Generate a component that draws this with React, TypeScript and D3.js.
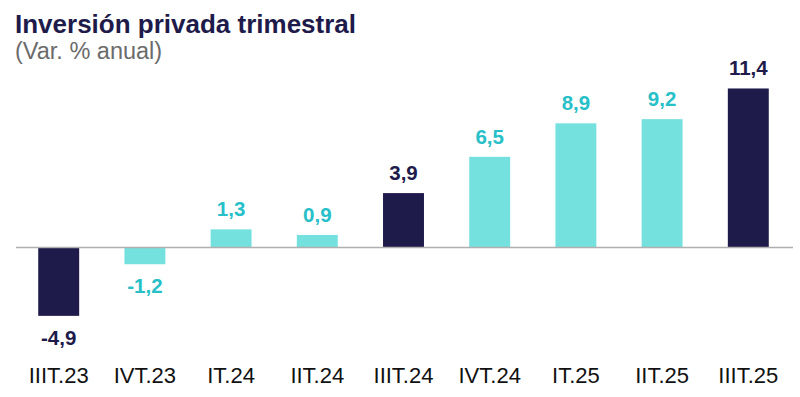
import * as d3 from "d3";

const categories = ["IIIT.23", "IVT.23", "IT.24", "IIT.24", "IIIT.24", "IVT.24", "IT.25", "IIT.25", "IIIT.25"];
const values = [-4.9, -1.2, 1.3, 0.9, 3.9, 6.5, 8.9, 9.2, 11.4];
const highlighted = ["IIIT.23", "IIIT.24", "IIIT.25"];

const title = "Inversión privada trimestral";
const subtitle = "(Var. % anual)";

export default function App() {
  const width = 800;
  const height = 397;
  const zeroY = 247.5;
  const pxPerUnit = 13.95;

  const navy = "#1e1b4b";
  const cyan = "#74e1df";
  const cyanText = "#27c0c9";

  const xScale = d3
    .scaleBand()
    .domain(categories)
    .range([15.6, 791.4])
    .paddingInner(0.525)
    .paddingOuter(0.2625);

  const yScale = d3
    .scaleLinear()
    .domain([0, 1])
    .range([zeroY, zeroY - pxPerUnit]);

  const fmt = (v: number) => v.toFixed(1).replace(".", ",");

  return (
    <svg
      width={width}
      height={height}
      style={{ position: "absolute", left: 0, top: 0, background: "white" }}
      fontFamily="'Liberation Sans', Arial, sans-serif"
    >
      <text x={15} y={33} fontSize={26} fontWeight="bold" fill={navy}>
        {title}
      </text>
      <text x={15} y={59} fontSize={23.5} fill="#6b6b6b">
        {subtitle}
      </text>

      {categories.map((c, i) => {
        const v = values[i];
        const dark = highlighted.includes(c);
        const x = xScale(c) as number;
        const y0 = yScale(0);
        const y1 = yScale(v);
        const cx = x + xScale.bandwidth() / 2;
        return (
          <g key={c}>
            <rect
              x={x}
              y={Math.min(y0, y1)}
              width={xScale.bandwidth()}
              height={Math.abs(y1 - y0)}
              fill={dark ? navy : cyan}
            />
            <text
              x={cx}
              y={v >= 0 ? y1 - 13 : y1 + 29}
              textAnchor="middle"
              fontSize={20.5}
              fontWeight="bold"
              fill={dark ? navy : cyanText}
            >
              {fmt(v)}
            </text>
            <text x={cx} y={383} textAnchor="middle" fontSize={22} fill="#111">
              {c}
            </text>
          </g>
        );
      })}

      <line x1={16} x2={793} y1={yScale(0)} y2={yScale(0)} stroke="#b0b0b0" strokeWidth={1.5} />
    </svg>
  );
}
